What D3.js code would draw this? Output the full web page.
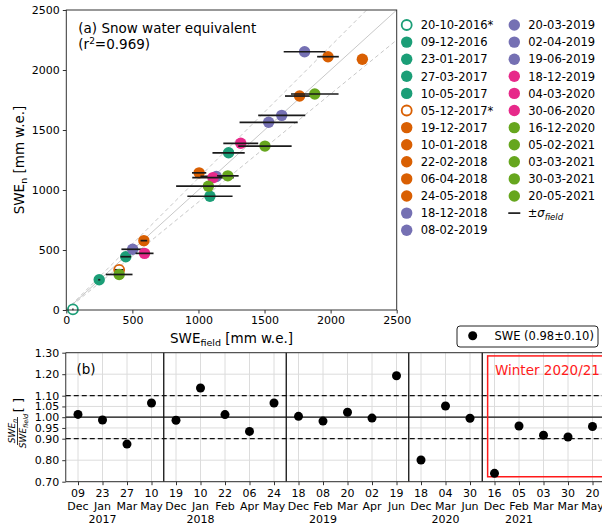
<!DOCTYPE html>
<html><head><meta charset="utf-8">
<script src="https://cdn.jsdelivr.net/npm/d3@7"></script>
<style>
body{margin:0;background:#fff;}
svg{font-family:"DejaVu Sans",sans-serif;display:block;}
</style></head>
<body><svg id="c" width="602" height="529"></svg>
<script>
// ---------- data ----------
const dates = ["20-10-2016*","09-12-2016","23-01-2017","27-03-2017","10-05-2017",
  "05-12-2017*","19-12-2017","10-01-2018","22-02-2018","06-04-2018","24-05-2018",
  "18-12-2018","08-02-2019","20-03-2019","02-04-2019","19-06-2019",
  "18-12-2019","04-03-2020","30-06-2020",
  "16-12-2020","05-02-2021","03-03-2021","30-03-2021","20-05-2021"];
const seasonOf = [0,0,0,0,0, 1,1,1,1,1,1, 2,2,2,2,2, 3,3,3, 4,4,4,4,4];
const seasonColors = ["#1b9e77","#d95f02","#7570b3","#e7298a","#66a61e"];
const sweField = [50,249,450,1087,1228, 400,587,1005,1765,2240,1980, 502,1135,1531,1630,1803, 592,1320,1110, 400,1075,1222,1503,1880];
const sweN     = [5,252,444,948,1310, 335,578,1143,1783,2089,2111, 506,1113,1564,1622,2152, 472,1389,1103, 296,1032,1118,1366,1800];
const sigmaField = [5,8,40,171,122, 31,25,54,110,0,82, 85,120,220,178,158, 68,132,157, 101,244,82,202,180];
const topTicks = [0,500,1000,1500,2000,2500];

const botDays   = ["09","23","27","10","19","10","22","06","24","18","08","20","02","19","18","04","30","16","05","03","30","20"];
const botMonths = ["Dec","Jan","Mar","May","Dec","Jan","Feb","Apr","May","Dec","Feb","Mar","Apr","Jun","Dec","Mar","Jun","Dec","Feb","Mar","Mar","May"];
const botYears  = ["","2017","","","","2018","","","","","2019","","","","","2020","","","2021","","",""];
const ratios    = [1.013,0.987,0.875,1.066,0.986,1.136,1.012,0.934,1.066,1.004,0.982,1.023,0.996,1.193,0.801,1.052,0.995,0.739,0.959,0.916,0.908,0.957];
const seasonBreaks = [3.5,8.5,13.5,16.5];
const botTicks = [0.70,0.80,0.90,0.95,1.00,1.05,1.10,1.20,1.30];

// ---------- setup ----------
const svg = d3.select("#c");
const color = d3.scaleOrdinal().domain([0,1,2,3,4]).range(seasonColors);
const spine = "#333";

// ---------- panel (a) ----------
const x = d3.scaleLinear().domain([0,2500]).range([66.3,396.7]);
const y = d3.scaleLinear().domain([0,2500]).range([310,10]);
const gA = svg.append("g");

// reference lines
const lineFn = (k) => [[0,0],[Math.min(2500,2500/k),Math.min(2500,2500*k)]];
[[1,null],[1.1,"4,3"],[0.9,"4,3"]].forEach(([k,dash])=>{
  const p = lineFn(k);
  gA.append("line").attr("x1",x(p[0][0])).attr("y1",y(p[0][1]))
    .attr("x2",x(p[1][0])).attr("y2",y(p[1][1]))
    .attr("stroke","#c8c8c8").attr("stroke-width",1)
    .attr("stroke-dasharray",dash);
});

// points + error bars
dates.forEach((d,i)=>{
  const open = d.endsWith("*");
  const c = color(seasonOf[i]);
  gA.append("circle").attr("cx",x(sweField[i])).attr("cy",y(sweN[i]))
    .attr("r",open?5:5.7)
    .attr("fill",open?"#fff":c).attr("stroke",open?c:"none").attr("stroke-width",open?1.8:0);
  if (sigmaField[i]>0){
    gA.append("line").attr("x1",x(sweField[i]-sigmaField[i])).attr("x2",x(sweField[i]+sigmaField[i]))
      .attr("y1",y(sweN[i])).attr("y2",y(sweN[i]))
      .attr("stroke","#1a1a1a").attr("stroke-width",1.7);
  }
});

// frame
gA.append("rect").attr("x",66.3).attr("y",10).attr("width",330.4).attr("height",300)
  .attr("fill","none").attr("stroke",spine).attr("stroke-width",1);

// axes
const axB = gA.append("g").attr("transform","translate(0,310)")
  .call(d3.axisBottom(x).tickValues(topTicks).tickSize(3.5).tickPadding(3).tickFormat(d3.format("d")));
const axL = gA.append("g").attr("transform","translate(66.3,0)")
  .call(d3.axisLeft(y).tickValues(topTicks).tickSize(3.5).tickPadding(3).tickFormat(d3.format("d")));
[axB,axL].forEach(a=>{
  a.select(".domain").remove();
  a.selectAll("line").attr("stroke",spine);
  a.selectAll("text").attr("font-size",11).attr("font-family","DejaVu Sans").attr("fill","#000");
});

// title
const t1 = gA.append("text").attr("x",78.3).attr("y",32.5).attr("font-size",13.5);
t1.text("(a) Snow water equivalent");
const t2 = gA.append("text").attr("x",78.3).attr("y",49).attr("font-size",13.5);
t2.append("tspan").text("(r");
t2.append("tspan").attr("font-size",9).attr("dy",-5).text("2");
t2.append("tspan").attr("dy",5).text("=0.969)");

// axis labels
const xl = gA.append("text").attr("x",231.5).attr("y",343).attr("text-anchor","middle").attr("font-size",13.5);
xl.append("tspan").text("SWE");
xl.append("tspan").attr("font-size",9.5).attr("dy",3).text("field");
xl.append("tspan").attr("dy",-3).text(" [mm w.e.]");
const yl = gA.append("text").attr("transform","translate(24,160) rotate(-90)").attr("text-anchor","middle").attr("font-size",13.5);
yl.append("tspan").text("SWE");
yl.append("tspan").attr("font-size",9.5).attr("dy",3).text("n");
yl.append("tspan").attr("dy",-3).text(" [mm w.e.]");

// legend (a)
const legG = svg.append("g").attr("font-size",11.5);
const rowH = 17.1;
dates.forEach((d,i)=>{
  const col = i<13?0:1, row = i<13?i:i-13;
  const mx = col===0?406.7:514.3, ty = 25+row*rowH;
  const open = d.endsWith("*");
  const c = color(seasonOf[i]);
  legG.append("circle").attr("cx",mx).attr("cy",ty).attr("r",open?5:5.7)
    .attr("fill",open?"#fff":c).attr("stroke",open?c:"none").attr("stroke-width",open?1.8:0);
  legG.append("text").attr("x",mx+14).attr("y",ty+4.2).text(d);
});
{
  const ty = 25+11*rowH;
  legG.append("line").attr("x1",508.3).attr("x2",520.3).attr("y1",ty).attr("y2",ty)
    .attr("stroke","#1a1a1a").attr("stroke-width",1.7);
  const tx = legG.append("text").attr("x",527.7).attr("y",ty+4.2);
  tx.append("tspan").text("±");
  tx.append("tspan").attr("font-style","italic").text("σ");
  tx.append("tspan").attr("font-style","italic").attr("font-size",8.5).attr("dy",3).text("field");
}

// ---------- panel (b) ----------
const xb = d3.scaleLinear().domain([-0.5,21.5]).range([65.75,604.75]);
const yb = d3.scaleLinear().domain([0.70,1.30]).range([481.7,352.7]);
const gB = svg.append("g");
const idx = d3.range(ratios.length);

// grid
gB.selectAll(".gy").data(botTicks).join("line")
  .attr("x1",xb(-0.5)).attr("x2",xb(21.5)).attr("y1",d=>yb(d)).attr("y2",d=>yb(d))
  .attr("stroke","#dcdcdc").attr("stroke-width",1);
gB.selectAll(".gx").data(idx).join("line")
  .attr("x1",d=>xb(d)).attr("x2",d=>xb(d)).attr("y1",yb(0.70)).attr("y2",yb(1.30))
  .attr("stroke","#dcdcdc").attr("stroke-width",1);

// reference lines
[[1.0,null],[1.1,"5,3"],[0.9,"5,3"]].forEach(([v,dash])=>{
  gB.append("line").attr("x1",xb(-0.5)).attr("x2",xb(21.5)).attr("y1",yb(v)).attr("y2",yb(v))
    .attr("stroke","#111").attr("stroke-width",1.3).attr("stroke-dasharray",dash);
});
// season separators
gB.selectAll(".sep").data(seasonBreaks).join("line")
  .attr("x1",d=>xb(d)).attr("x2",d=>xb(d)).attr("y1",yb(0.70)).attr("y2",yb(1.30))
  .attr("stroke","#111").attr("stroke-width",1.3);

// winter box
gB.append("rect").attr("x",xb(16.72)).attr("y",yb(1.285)).attr("width",xb(21.9)-xb(16.72))
  .attr("height",yb(0.723)-yb(1.285)).attr("fill","none").attr("stroke","#ff1a1a").attr("stroke-width",1.5);
gB.append("text").attr("x",495).attr("y",375).attr("font-size",13.5).attr("fill","#ff1a1a").text("Winter 2020/21");

// points
gB.selectAll(".pt").data(idx).join("circle")
  .attr("cx",d=>xb(d)).attr("cy",d=>yb(ratios[d])).attr("r",4.5).attr("fill","#000");

// frame (left, top, bottom)
gB.append("path").attr("d",`M${xb(21.5)},${yb(1.30)}H${xb(-0.5)}V${yb(0.70)}H${xb(21.5)}`)
  .attr("fill","none").attr("stroke",spine).attr("stroke-width",1);

// y axis
const ayb = gB.append("g").attr("transform",`translate(${xb(-0.5)},0)`)
  .call(d3.axisLeft(yb).tickValues(botTicks).tickSize(3.5).tickPadding(3).tickFormat(d3.format(".2f")));
ayb.select(".domain").remove();
ayb.selectAll("line").attr("stroke",spine);
ayb.selectAll("text").attr("font-size",11).attr("font-family","DejaVu Sans").attr("fill","#000");

// x axis with multi-line labels
const axb = gB.append("g").attr("transform",`translate(0,${yb(0.70)})`)
  .call(d3.axisBottom(xb).tickValues(idx).tickSize(3.5).tickFormat(""));
axb.select(".domain").remove();
axb.selectAll("line").attr("stroke",spine);
idx.forEach(i=>{
  const t = gB.append("text").attr("x",xb(i)).attr("y",497).attr("text-anchor","middle").attr("font-size",11);
  t.append("tspan").attr("x",xb(i)).text(botDays[i]);
  t.append("tspan").attr("x",xb(i)).attr("dy",13.2).text(botMonths[i]);
  if (botYears[i]) t.append("tspan").attr("x",xb(i)).attr("dy",13.2).text(botYears[i]);
});

// (b) label
gB.append("text").attr("x",76.5).attr("y",373.5).attr("font-size",13.5).text("(b)");

// y label: fraction
const yg = gB.append("g").attr("transform","translate(17,431) rotate(-90)");
const num = yg.append("text").attr("x",0).attr("y",-2.5).attr("text-anchor","middle").attr("font-size",9).attr("font-style","italic");
num.append("tspan").text("SWE");
num.append("tspan").attr("font-size",6.5).attr("dy",2).text("n");
yg.append("line").attr("x1",-14).attr("x2",14).attr("y1",0.5).attr("y2",0.5).attr("stroke","#000").attr("stroke-width",0.8);
const den = yg.append("text").attr("x",0).attr("y",8.5).attr("text-anchor","middle").attr("font-size",9).attr("font-style","italic");
den.append("tspan").text("SWE");
den.append("tspan").attr("font-size",6.5).attr("dy",2).text("field");
yg.append("text").attr("x",26).attr("y",5.5).attr("text-anchor","middle").attr("font-size",13).text("[ ]");

// legend (b)
const lb = svg.append("g");
lb.append("rect").attr("x",457).attr("y",326).attr("width",141).attr("height",21).attr("rx",3)
  .attr("fill","#fff").attr("stroke","#222").attr("stroke-width",1);
lb.append("circle").attr("cx",472.7).attr("cy",335.8).attr("r",4.5).attr("fill","#000");
lb.append("text").attr("x",494.5).attr("y",340).attr("font-size",11.5).text("SWE (0.98±0.10)");
</script>
</body></html>
